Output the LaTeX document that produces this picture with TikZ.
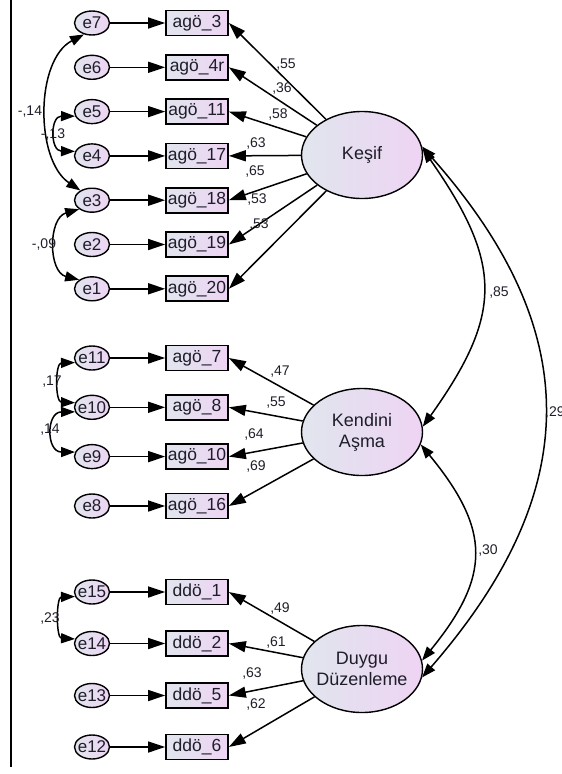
\documentclass[tikz,border=0pt]{standalone}
\usepackage{fontspec}
\setmainfont{Liberation Sans}
\usetikzlibrary{arrows.meta,shapes.geometric}
\definecolor{fillL}{HTML}{E1E5EE}
\definecolor{fillR}{HTML}{EED4F3}
\definecolor{txt}{HTML}{1E1E2A}
\newcommand{\zw}[1]{\makebox[0pt]{#1}}
\begin{document}
\begin{tikzpicture}[x=1pt,y=-1pt,
 errnode/.style={ellipse, draw=black, line width=1.4pt, left color=fillL, right color=fillR, minimum width=35pt, minimum height=24pt, inner sep=0pt, font=\fontsize{17}{18}\selectfont, text=txt},
 obs/.style={rectangle, draw=black, line width=1.7pt, left color=fillL, right color=fillR, minimum width=62pt, minimum height=25pt, inner sep=0pt, font=\fontsize{17.5}{19}\selectfont, text=txt},
 lat/.style={ellipse, draw=black, line width=1.4pt, left color=fillL, right color=fillR, minimum width=121pt, minimum height=87pt, inner sep=0pt, align=center, font=\fontsize{18}{21}\selectfont, text=txt},
 load/.style={-{Triangle[length=17pt,width=11pt]}, line width=1.5pt},
 cov/.style={{Triangle[length=14pt,width=10pt]}-{Triangle[length=14pt,width=10pt]}, line width=1.5pt},
 lbl/.style={font=\fontsize{14}{15}\selectfont, text=txt, inner sep=0pt}
]
\useasboundingbox (0,0) rectangle (562,774);
\draw[line width=2pt] (11,0) -- (11,767);

% latent variables
\node[lat] (K) at (362,155) {\zw{Keşif}};
\node[lat] (KA) at (362,432) {\zw{Kendini}\\\zw{Aşma}};
\node[lat] (D) at (362,669) {\zw{Duygu}\\\zw{Düzenleme}};

% Keşif group
\foreach \i/\e/\t/\y in {1/e7/agö\_3/23, 2/e6/agö\_4r/67.3, 3/e5/agö\_11/111.6, 4/e4/agö\_17/155.9, 5/e3/agö\_18/200.2, 6/e2/agö\_19/244.5, 7/e1/agö\_20/288.8}{
  \node[errnode] (\e) at (92,\y) {\zw{\e}};
  \node[obs] (k\i) at (197,\y) {\t};
  \draw[load] (\e) -- (k\i);
  \draw[load] (K) -- (k\i.east);
}
% Kendini group
\foreach \i/\e/\t/\y in {1/e11/agö\_7/358, 2/e10/agö\_8/407.3, 3/e9/agö\_10/456.6, 4/e8/agö\_16/506}{
  \node[errnode] (\e) at (92,\y) {\zw{\e}};
  \node[obs] (a\i) at (197,\y) {\t};
  \draw[load] (\e) -- (a\i);
  \draw[load] (KA) -- (a\i.east);
}
% Duygu group
\foreach \i/\e/\t/\y in {1/e15/ddö\_1/592, 2/e14/ddö\_2/643.5, 3/e13/ddö\_5/695.5, 4/e12/ddö\_6/747}{
  \node[errnode] (\e) at (92,\y) {\zw{\e}};
  \node[obs] (d\i) at (197,\y) {\t};
  \draw[load] (\e) -- (d\i);
  \draw[load] (D) -- (d\i.east);
}

% loading labels
\node[lbl] (l1) at (286,65) {,55};
\node[lbl] (l2) at (282,89) {,36};
\node[lbl] (l3) at (278,115) {,58};
\node[lbl] (l4) at (256,144) {,63};
\node[lbl] (l5) at (255,172) {,65};
\node[lbl] (l6) at (257,200) {,53};
\node[lbl] (l7) at (259,225) {,53};
\node[lbl] (l8) at (280,372) {,47};
\node[lbl] (l9) at (276,403) {,55};
\node[lbl] (l10) at (254,435) {,64};
\node[lbl] (l11) at (256,467) {,69};
\node[lbl] (l12) at (280,608) {,49};
\node[lbl] (l13) at (276,642) {,61};
\node[lbl] (l14) at (252,673) {,63};
\node[lbl] (l15) at (256,704) {,62};

% error covariances
\draw[cov] (e7.235) .. controls (35,60) and (35,160) .. (e3.140);
\draw[cov] (e5.195) .. controls (50,116) and (50,151) .. (e4.165);
\draw[cov] (e3.215) .. controls (48,218) and (48,272) .. (e1.145);
\draw[cov] (e11.195) .. controls (55,363) and (55,402) .. (e10.165);
\draw[cov] (e10.195) .. controls (46,412) and (46,452) .. (e9.165);
\draw[cov] (e15.195) .. controls (56,597) and (56,638) .. (e14.165);
\node[lbl] (c1) at (30,112) {-,14};
\node[lbl] (c2) at (53,135) {-,13};
\node[lbl] (c3) at (44,245) {-,09};
\node[lbl] (c4) at (52,382) {,17};
\node[lbl] (c5) at (50,430) {,14};
\node[lbl] (c6) at (50,618) {,23};

% latent covariances
\draw[cov] (K.6) .. controls (503,264) and (503,314) .. (KA.5);
\draw[cov] (K.8) .. controls (585,330) and (585,490) .. (D.-8);
\draw[cov] (KA.-12) .. controls (491,530) and (491,576) .. (D.8);
\node[lbl] (c7) at (499,293) {,85};
\node[lbl] (c8) at (488,550) {,30};
\node[lbl, anchor=west] (c9) at (545,413) {,29};
\end{tikzpicture}
\end{document}
